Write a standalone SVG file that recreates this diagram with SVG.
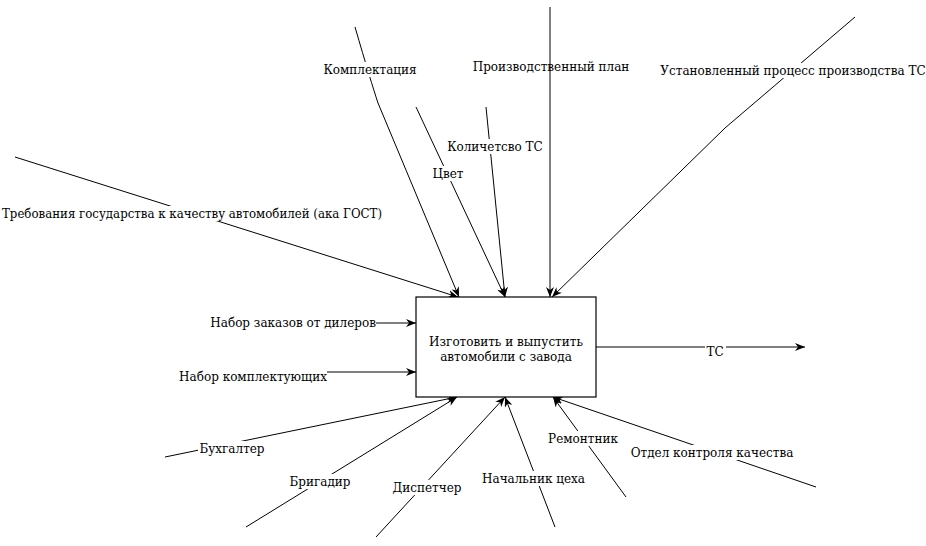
<svg xmlns="http://www.w3.org/2000/svg" width="926" height="546" viewBox="0 0 926 546">
<style>
text{font-family:"DejaVu Serif","Liberation Serif",serif;font-size:12px;fill:#000;text-anchor:middle}
.c{fill:none;stroke:#000;stroke-width:1}
.a{marker-end:url(#arr)}
.bg{fill:#fff;stroke:none}
.box{fill:#fff;stroke:#000;stroke-width:1.2}
</style>
<defs>
<marker id="arr" viewBox="0 0 10 8" refX="10" refY="4" markerWidth="10" markerHeight="8" orient="auto" markerUnits="userSpaceOnUse">
<path d="M0,0 L10,4 L0,8 L3,4 z" fill="#000"/>
</marker>
</defs>
<rect width="926" height="546" fill="#fff"/>
<g id="connectors">
<g id="c-gost"><path class="c a" d="M15,157 L458,297"/><rect class="bg" x="0" y="206" width="384" height="15"/><text x="192" y="218" textLength="380" lengthAdjust="spacingAndGlyphs">Требования государства к качеству автомобилей (ака ГОСТ)</text></g>
<g id="c-kompl"><path class="c a" d="M355,27 Q371,82 378,103 L459,297"/><rect class="bg" x="323" y="62" width="95" height="15"/><text x="370" y="74">Комплектация</text></g>
<g id="c-color"><path class="c a" d="M416,107 L505,297"/><rect class="bg" x="432" y="166" width="32" height="15"/><text x="448" y="178">Цвет</text></g>
<g id="c-qty"><path class="c a" d="M486,107 L505,297"/><rect class="bg" x="447" y="139" width="96" height="15"/><text x="495" y="151">Количетсво ТС</text></g>
<g id="c-plan"><path class="c a" d="M550,7 L550,297"/><text x="551" y="71">Производственный план</text></g>
<g id="c-proc"><path class="c a" d="M855,17 L725,128 L552,297"/><rect class="bg" x="660" y="63" width="266" height="15"/><text x="793" y="75">Установленный процесс производства ТС</text></g>
<g id="c-orders"><path class="c a" d="M376,323 L416,323"/><text x="376" y="327" style="text-anchor:end">Набор заказов от дилеров</text></g>
<g id="c-parts"><path class="c a" d="M327,372 L416,372"/><text x="327" y="381" style="text-anchor:end">Набор комплектующих</text></g>
<g id="c-out"><path class="c a" d="M596,347 L805,347"/><rect class="bg" x="705" y="344" width="21" height="15"/><text x="715" y="356">ТС</text></g>
<g id="c-buh"><path class="c a" d="M165,457 L457,397"/><rect class="bg" x="198" y="441" width="67" height="15"/><text x="232" y="453">Бухгалтер</text></g>
<g id="c-brig"><path class="c a" d="M246,527 L457,397"/><rect class="bg" x="289" y="474" width="62" height="15"/><text x="320" y="486">Бригадир</text></g>
<g id="c-disp"><path class="c a" d="M376,537 L505,397"/><rect class="bg" x="391" y="480" width="72" height="15"/><text x="427" y="492">Диспетчер</text></g>
<g id="c-head"><path class="c a" d="M555,527 L505,397"/><rect class="bg" x="481" y="471" width="105" height="15"/><text x="533.5" y="483">Начальник цеха</text></g>
<g id="c-rep"><path class="c a" d="M626,497 L553,397"/><rect class="bg" x="547" y="431" width="71" height="15"/><text x="583" y="443">Ремонтник</text></g>
<g id="c-qc"><path class="c a" d="M816,487 L553,397"/><rect class="bg" x="629" y="445" width="166" height="15"/><text x="712" y="457">Отдел контроля качества</text></g>
</g>
<g id="node-main">
<rect class="box" x="416" y="297" width="180" height="100"/>
<text x="506" y="346">Изготовить и выпустить</text>
<text x="506" y="361">автомобили с завода</text>
</g>
</svg>
